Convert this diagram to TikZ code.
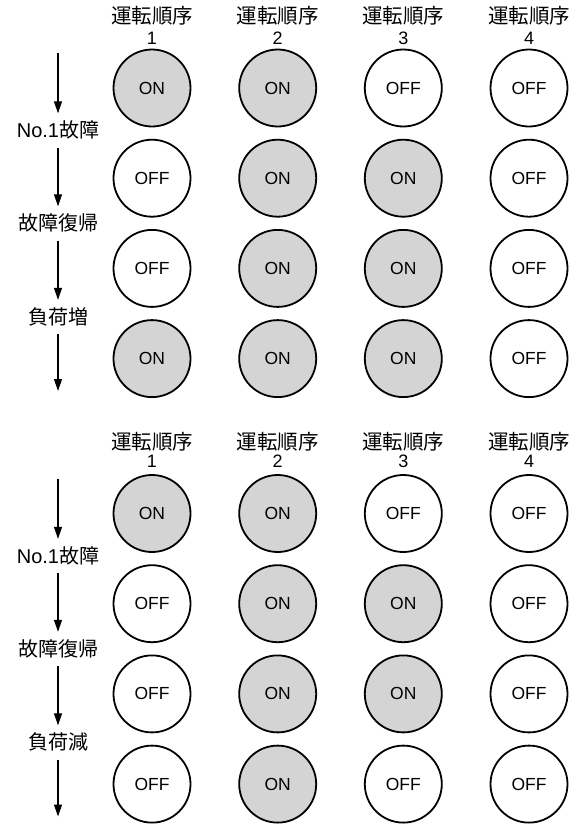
\documentclass[tikz,border=0pt]{standalone}
\usepackage{fontspec}
\setmainfont{Liberation Sans}
\newfontfamily\jp{Noto Sans CJK JP}
\usetikzlibrary{arrows.meta}
\definecolor{ongray}{gray}{0.83}

\begin{document}
\begin{tikzpicture}[x=1pt,y=1pt]
        \tikzstyle{every node}+=[inner sep=0pt]
        \tikzstyle{sw}=[draw=black, circle, line width=1.8pt, minimum size=77pt, font=\fontsize{17.5}{17.5}\selectfont]
        \tikzstyle{swon}=[sw, fill=ongray]
        \tikzstyle{swoff}=[sw, fill=white]
        \tikzstyle{hdr}=[anchor=base, font=\jp\fontsize{20.5}{20.5}\selectfont]
        \tikzstyle{num}=[anchor=base, font=\fontsize{18}{18}\selectfont]
        \tikzstyle{lbl}=[font=\fontsize{20}{20}\selectfont, text height=17pt, text depth=3pt, inner ysep=7pt]
        \tikzstyle{flow}=[line width=1.2pt, -{Triangle[length=12pt,width=8pt]}]
        \useasboundingbox (0,0) rectangle (576,-825);
        % upper chart: load increase
        \node [hdr] (ha1) at (152,-23.5) {運転順序};
        \node [num] (na1) at (152,-44.5) {1};
        \node [hdr] (ha2) at (277.7,-23.5) {運転順序};
        \node [num] (na2) at (277.7,-44.5) {2};
        \node [hdr] (ha3) at (403.3,-23.5) {運転順序};
        \node [num] (na3) at (403.3,-44.5) {3};
        \node [hdr] (ha4) at (529,-23.5) {運転順序};
        \node [num] (na4) at (529,-44.5) {4};
        \node [swon] (a11) at (152,-88) {ON};
        \node [swon] (a12) at (277.7,-88) {ON};
        \node [swoff] (a13) at (403.3,-88) {OFF};
        \node [swoff] (a14) at (529,-88) {OFF};
        \node [swoff] (a21) at (152,-178.2) {OFF};
        \node [swon] (a22) at (277.7,-178.2) {ON};
        \node [swon] (a23) at (403.3,-178.2) {ON};
        \node [swoff] (a24) at (529,-178.2) {OFF};
        \node [swoff] (a31) at (152,-268.4) {OFF};
        \node [swon] (a32) at (277.7,-268.4) {ON};
        \node [swon] (a33) at (403.3,-268.4) {ON};
        \node [swoff] (a34) at (529,-268.4) {OFF};
        \node [swon] (a41) at (152,-358.6) {ON};
        \node [swon] (a42) at (277.7,-358.6) {ON};
        \node [swon] (a43) at (403.3,-358.6) {ON};
        \node [swoff] (a44) at (529,-358.6) {OFF};
        \coordinate (ta0) at (58,-53);
        \node [lbl] (la1) at (58,-130.5) {No.1{\jp 故障}};
        \node [lbl] (la2) at (58,-223.5) {\jp 故障復帰};
        \node [lbl] (la3) at (58,-317) {\jp 負荷増};
        \coordinate (ta4) at (58,-391);
        \draw [flow] (ta0) -- (la1);
        \draw [flow] (la1) -- (la2);
        \draw [flow] (la2) -- (la3);
        \draw [flow] (la3) -- (ta4);
        % lower chart: load decrease
        \node [hdr] (hb1) at (152,-449) {運転順序};
        \node [num] (nb1) at (152,-467) {1};
        \node [hdr] (hb2) at (277.7,-449) {運転順序};
        \node [num] (nb2) at (277.7,-467) {2};
        \node [hdr] (hb3) at (403.3,-449) {運転順序};
        \node [num] (nb3) at (403.3,-467) {3};
        \node [hdr] (hb4) at (529,-449) {運転順序};
        \node [num] (nb4) at (529,-467) {4};
        \node [swon] (b11) at (152,-513.5) {ON};
        \node [swon] (b12) at (277.7,-513.5) {ON};
        \node [swoff] (b13) at (403.3,-513.5) {OFF};
        \node [swoff] (b14) at (529,-513.5) {OFF};
        \node [swoff] (b21) at (152,-603.7) {OFF};
        \node [swon] (b22) at (277.7,-603.7) {ON};
        \node [swon] (b23) at (403.3,-603.7) {ON};
        \node [swoff] (b24) at (529,-603.7) {OFF};
        \node [swoff] (b31) at (152,-693.9) {OFF};
        \node [swon] (b32) at (277.7,-693.9) {ON};
        \node [swon] (b33) at (403.3,-693.9) {ON};
        \node [swoff] (b34) at (529,-693.9) {OFF};
        \node [swoff] (b41) at (152,-784.1) {OFF};
        \node [swon] (b42) at (277.7,-784.1) {ON};
        \node [swoff] (b43) at (403.3,-784.1) {OFF};
        \node [swoff] (b44) at (529,-784.1) {OFF};
        \coordinate (tb0) at (58,-478.5);
        \node [lbl] (lb1) at (58,-556) {No.1{\jp 故障}};
        \node [lbl] (lb2) at (58,-649) {\jp 故障復帰};
        \node [lbl] (lb3) at (58,-742.5) {\jp 負荷減};
        \coordinate (tb4) at (58,-816.5);
        \draw [flow] (tb0) -- (lb1);
        \draw [flow] (lb1) -- (lb2);
        \draw [flow] (lb2) -- (lb3);
        \draw [flow] (lb3) -- (tb4);
\end{tikzpicture}
\end{document}
